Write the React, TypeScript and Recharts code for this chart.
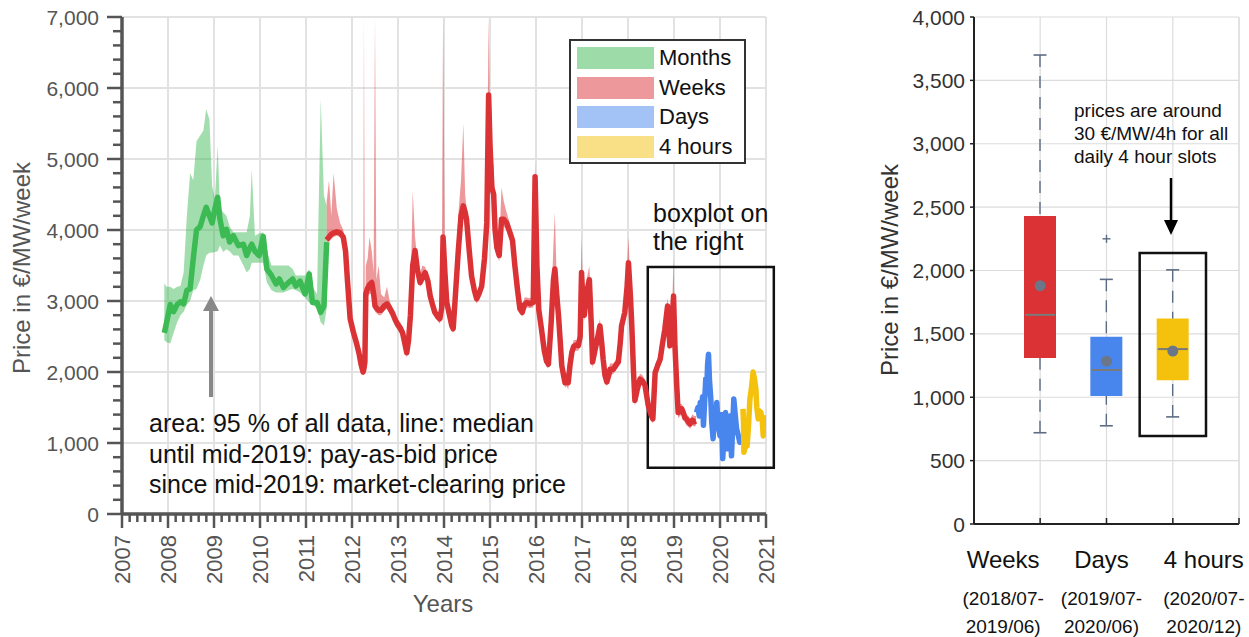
import React from "react";
import {
  ComposedChart,
  Line,
  Area,
  Bar,
  Scatter,
  Cell,
  XAxis,
  YAxis,
  CartesianGrid,
  ReferenceArea,
} from "recharts";

const FONT = '"Liberation Sans", Arial, Helvetica, sans-serif';

const monthColor = "#3cba54";
const weekColor = "#db3236";
const dayColor = "#4885ed";
const fourHourColor = "#f4c20d";

// [year, median, low (95 % area), high (95 % area)]
const monthSeries: number[][] = [
  [2007.92, 2550, 2450, 3250],
  [2007.97, 2700, 2420, 3200],
  [2008.05, 2950, 2400, 3200],
  [2008.12, 2850, 2550, 3170],
  [2008.2, 2950, 2700, 3200],
  [2008.27, 2990, 2800, 3210],
  [2008.34, 2960, 2850, 3400],
  [2008.41, 3150, 2950, 4200],
  [2008.48, 3170, 3000, 4800],
  [2008.55, 3600, 3150, 4700],
  [2008.62, 4000, 3170, 5250],
  [2008.7, 4050, 3300, 5330],
  [2008.77, 4200, 3500, 5400],
  [2008.83, 4320, 3640, 5700],
  [2008.9, 4200, 3680, 5560],
  [2008.96, 4100, 3680, 4620],
  [2009.02, 4300, 3690, 4450],
  [2009.08, 4460, 3700, 5190],
  [2009.13, 4150, 3780, 4300],
  [2009.2, 3920, 3690, 4250],
  [2009.27, 4010, 3730, 4200],
  [2009.34, 3830, 3700, 4050],
  [2009.42, 3920, 3640, 3970],
  [2009.53, 3780, 3640, 3970],
  [2009.64, 3800, 3500, 3970],
  [2009.71, 3640, 3400, 3970],
  [2009.78, 3750, 3450, 4200],
  [2009.82, 3800, 3540, 4860],
  [2009.89, 3700, 3540, 3920],
  [2009.98, 3640, 3540, 3950],
  [2010.07, 3910, 3540, 3970],
  [2010.15, 3450, 3260, 3700],
  [2010.25, 3360, 3150, 3500],
  [2010.35, 3240, 3120, 3500],
  [2010.42, 3310, 3120, 3500],
  [2010.51, 3190, 3120, 3500],
  [2010.62, 3260, 3150, 3500],
  [2010.71, 3310, 3170, 3450],
  [2010.78, 3210, 3150, 3360],
  [2010.87, 3280, 3120, 3360],
  [2010.98, 3100, 3050, 3360],
  [2011.07, 3380, 2980, 3450],
  [2011.14, 2980, 2950, 3200],
  [2011.24, 2980, 2890, 3100],
  [2011.32, 2840, 2700, 5840],
  [2011.39, 2930, 2650, 4480],
  [2011.45, 3830, 2890, 4340],
];

// [year, median, low, high]
const weekSeries: number[][] = [
  [2011.45, 3860, 3800, 4400],
  [2011.5, 3900, 3850, 4700],
  [2011.55, 3940, 3880, 4200],
  [2011.6, 3960, 3900, 4800],
  [2011.67, 3975, 3920, 4300],
  [2011.74, 3960, 3900, 4100],
  [2011.81, 3900, 3840, 4000],
  [2011.86, 3700, 3600, 3800],
  [2011.9, 3300, 3200, 3400],
  [2011.96, 2750, 2650, 2850],
  [2012.03, 2560, 2450, 2650],
  [2012.1, 2400, 2300, 2500],
  [2012.15, 2270, 2150, 2350],
  [2012.2, 2100, 2000, 2250],
  [2012.24, 2000, 1950, 2100],
  [2012.26, 2050, 1980, 7000],
  [2012.28, 2140, 2050, 2300],
  [2012.3, 3100, 2900, 3500],
  [2012.34, 3180, 3050, 3600],
  [2012.38, 3230, 3100, 3900],
  [2012.43, 3260, 3100, 3700],
  [2012.47, 3100, 2950, 3400],
  [2012.5, 2930, 2850, 7000],
  [2012.53, 2900, 2830, 3300],
  [2012.58, 2870, 2800, 3500],
  [2012.63, 2870, 2800, 3100],
  [2012.7, 2930, 2860, 3050],
  [2012.76, 2960, 2890, 3200],
  [2012.82, 2900, 2820, 3000],
  [2012.88, 2830, 2760, 2900],
  [2012.93, 2750, 2680, 2830],
  [2012.98, 2680, 2600, 2750],
  [2013.05, 2620, 2540, 2700],
  [2013.1, 2550, 2480, 2620],
  [2013.15, 2400, 2320, 2480],
  [2013.19, 2270, 2200, 2350],
  [2013.23, 2450, 2380, 2550],
  [2013.27, 2800, 2700, 2950],
  [2013.32, 3500, 3350, 4550],
  [2013.37, 3710, 3600, 3900],
  [2013.42, 3450, 3350, 3600],
  [2013.48, 3260, 3200, 3380],
  [2013.53, 3330, 3250, 3500],
  [2013.59, 3400, 3320, 3480],
  [2013.65, 3280, 3200, 3350],
  [2013.7, 3070, 3000, 3150],
  [2013.75, 2950, 2880, 3020],
  [2013.8, 2840, 2780, 2900],
  [2013.86, 2780, 2720, 2850],
  [2013.91, 2750, 2680, 2820],
  [2013.95, 2900, 2800, 3100],
  [2013.98, 3900, 3700, 7000],
  [2014.02, 3400, 3200, 3600],
  [2014.06, 2980, 2900, 3100],
  [2014.12, 2800, 2720, 2880],
  [2014.17, 2650, 2580, 2720],
  [2014.2, 2610, 2550, 2680],
  [2014.25, 3100, 3000, 3300],
  [2014.31, 3700, 3600, 4200],
  [2014.37, 4200, 4100, 4700],
  [2014.42, 4340, 4250, 5500],
  [2014.46, 4250, 4150, 4500],
  [2014.49, 4150, 4050, 4300],
  [2014.55, 3700, 3600, 3800],
  [2014.6, 3350, 3280, 3420],
  [2014.66, 3150, 3080, 3220],
  [2014.71, 3030, 2960, 3100],
  [2014.76, 3100, 3030, 3180],
  [2014.82, 3210, 3140, 3300],
  [2014.88, 3600, 3500, 3800],
  [2014.93, 4100, 4000, 4300],
  [2014.97, 5900, 5700, 7000],
  [2015.0, 5200, 5000, 5600],
  [2015.04, 4600, 4500, 5000],
  [2015.08, 4500, 4400, 4900],
  [2015.11, 4000, 3900, 4200],
  [2015.15, 3750, 3650, 3900],
  [2015.2, 3640, 3560, 3750],
  [2015.25, 4150, 4050, 4600],
  [2015.3, 4150, 4050, 4400],
  [2015.36, 4100, 4000, 4250],
  [2015.43, 3970, 3880, 4100],
  [2015.49, 3850, 3780, 3950],
  [2015.54, 3500, 3430, 3600],
  [2015.6, 3150, 3080, 3250],
  [2015.65, 2890, 2820, 2980],
  [2015.7, 2840, 2780, 2920],
  [2015.75, 2950, 2880, 3050],
  [2015.8, 2980, 2910, 3050],
  [2015.87, 2960, 2900, 3040],
  [2015.94, 2980, 2910, 3060],
  [2015.98, 4750, 4600, 4950],
  [2016.02, 3500, 3300, 3700],
  [2016.06, 2880, 2800, 2950],
  [2016.12, 2600, 2500, 2700],
  [2016.18, 2300, 2220, 2400],
  [2016.23, 2150, 2070, 2230],
  [2016.27, 2110, 2050, 2200],
  [2016.33, 2700, 2600, 2900],
  [2016.38, 3300, 3200, 3800],
  [2016.41, 3450, 3350, 4250],
  [2016.45, 3100, 3000, 3300],
  [2016.49, 2790, 2700, 2900],
  [2016.53, 2400, 2300, 2500],
  [2016.56, 2090, 2000, 2200],
  [2016.6, 1950, 1880, 2050],
  [2016.63, 1850, 1780, 1950],
  [2016.67, 1900, 1800, 2000],
  [2016.7, 1850, 1750, 1950],
  [2016.74, 2100, 2000, 2200],
  [2016.78, 2280, 2200, 2350],
  [2016.82, 2360, 2300, 2450],
  [2016.87, 2380, 2300, 2450],
  [2016.92, 2370, 2300, 2450],
  [2016.96, 2500, 2400, 2700],
  [2016.99, 3400, 3250, 3900],
  [2017.02, 3000, 2900, 3200],
  [2017.05, 2800, 2720, 2900],
  [2017.1, 3120, 3050, 3300],
  [2017.16, 3300, 3200, 3500],
  [2017.2, 2700, 2600, 2850],
  [2017.23, 2140, 2050, 2250],
  [2017.28, 2300, 2200, 2400],
  [2017.32, 2420, 2350, 2500],
  [2017.36, 2550, 2480, 2650],
  [2017.39, 2650, 2580, 2750],
  [2017.43, 2400, 2320, 2480],
  [2017.46, 2180, 2100, 2260],
  [2017.5, 1950, 1880, 2050],
  [2017.54, 1860, 1800, 1950],
  [2017.58, 1950, 1880, 2030],
  [2017.61, 2040, 1970, 2120],
  [2017.68, 2040, 1970, 2120],
  [2017.74, 2100, 2030, 2180],
  [2017.79, 2140, 2070, 2220],
  [2017.83, 2400, 2320, 2480],
  [2017.86, 2650, 2570, 2730],
  [2017.93, 2840, 2760, 2950],
  [2017.98, 3200, 3100, 3500],
  [2018.01, 3540, 3400, 3900],
  [2018.05, 3100, 3000, 3250],
  [2018.08, 2700, 2600, 2800],
  [2018.12, 2000, 1900, 2100],
  [2018.15, 1600, 1520, 1700],
  [2018.2, 1750, 1680, 1850],
  [2018.26, 1900, 1830, 1980],
  [2018.32, 1870, 1800, 1950],
  [2018.37, 1810, 1740, 1880],
  [2018.41, 1650, 1580, 1720],
  [2018.44, 1530, 1460, 1600],
  [2018.5, 1400, 1330, 1480],
  [2018.54, 1340, 1270, 1420],
  [2018.59, 1990, 1900, 2100],
  [2018.65, 2100, 2020, 2200],
  [2018.7, 2180, 2100, 2260],
  [2018.75, 2400, 2320, 2480],
  [2018.8, 2600, 2520, 2700],
  [2018.86, 2930, 2850, 3050],
  [2018.91, 2370, 2300, 2500],
  [2018.96, 2700, 2600, 2900],
  [2018.99, 3070, 2950, 3600],
  [2019.02, 2380, 2300, 2500],
  [2019.06, 1800, 1720, 1900],
  [2019.09, 1430, 1350, 1520],
  [2019.13, 1450, 1380, 1550],
  [2019.17, 1480, 1400, 1550],
  [2019.2, 1430, 1350, 1500],
  [2019.24, 1350, 1280, 1420],
  [2019.27, 1340, 1250, 1400],
  [2019.31, 1300, 1230, 1380],
  [2019.35, 1270, 1200, 1340],
  [2019.4, 1320, 1250, 1400],
  [2019.44, 1300, 1230, 1380],
  [2019.48, 1310, 1250, 1380],
];

// [year, median]
const daySeries: number[][] = [
  [2019.49, 1430], [2019.52, 1500], [2019.55, 1380], [2019.57, 1570],
  [2019.6, 1450], [2019.62, 1650], [2019.64, 1250], [2019.66, 1500],
  [2019.69, 1900], [2019.71, 1700], [2019.73, 2100], [2019.75, 2250],
  [2019.77, 1900], [2019.8, 1620], [2019.82, 1300], [2019.85, 1060],
  [2019.87, 1350], [2019.9, 1300], [2019.93, 1570], [2019.96, 1250],
  [2020.0, 1100], [2020.03, 1400], [2020.06, 780], [2020.09, 1200],
  [2020.12, 1430], [2020.15, 1100], [2020.17, 920], [2020.2, 1250],
  [2020.22, 1380], [2020.24, 1000], [2020.25, 820], [2020.28, 1300],
  [2020.3, 1620], [2020.33, 1400], [2020.36, 1200], [2020.4, 1100],
  [2020.43, 1010], [2020.47, 1100],
];

const fourHourSeries: number[][] = [
  [2020.5, 1480], [2020.51, 1300], [2020.52, 870], [2020.55, 950],
  [2020.59, 960], [2020.62, 1250], [2020.65, 1620], [2020.68, 1750],
  [2020.72, 2000], [2020.75, 1900], [2020.78, 1760], [2020.8, 1500],
  [2020.83, 1340], [2020.86, 1450], [2020.89, 1430], [2020.92, 1300],
  [2020.94, 1100], [2020.97, 1350], [2020.99, 1390],
];

const yearTicksMajor = [2007, 2008, 2009, 2010, 2011, 2012, 2013, 2014, 2015, 2016, 2017, 2018, 2019, 2020, 2021];
const priceTicksMajor = [0, 1000, 2000, 3000, 4000, 5000, 6000, 7000];
const minorPerYear = 6;
const minorPriceStep = 200;

const legendLabels = ["Months", "Weeks", "Days", "4 hours"];
const legendColors = [monthColor, weekColor, dayColor, fourHourColor];

// Box plot
const boxCategories = ["Weeks", "Days", "4 hours"];
const boxPeriodStart = ["(2018/07-", "(2019/07-", "(2020/07-"];
const boxPeriodEnd = ["2019/06)", "2020/06)", "2020/12)"];
const boxColors = [weekColor, dayColor, fourHourColor];
const whiskerLow = [720, 775, 845];
const quartile1 = [1310, 1010, 1135];
const boxMedians = [1650, 1215, 1380];
const quartile3 = [2430, 1478, 1622];
const whiskerHigh = [3700, 1930, 2005];
const boxMeans = [1880, 1285, 1365];
const boxOutliers: (number | null)[] = [null, 2250, null];
const boxTicks = [0, 500, 1000, 1500, 2000, 2500, 3000, 3500, 4000];
const boxLabelShift = [-37, -5, 31];

// ---------- derived tables ----------
const toBand = (s: number[][]) =>
  s.map(([year, median, low, high]) => ({ year, median, band: [low, high] }));
const toLine = (s: number[][]) => s.map(([year, median]) => ({ year, median }));

const monthData = toBand(monthSeries);
const weekData = toBand(weekSeries);
const dayData = toLine(daySeries);
const fourHourData = toLine(fourHourSeries);

const xTicks: number[] = [];
yearTicksMajor.forEach((y, i) => {
  if (i === yearTicksMajor.length - 1) xTicks.push(y);
  else for (let k = 0; k < minorPerYear; k++) xTicks.push(y + k / minorPerYear);
});
const yTicks: number[] = [];
for (let v = 0; v <= priceTicksMajor[priceTicksMajor.length - 1]; v += minorPriceStep) yTicks.push(v);

const boxRows = boxCategories.map((name, i) => ({
  name,
  base: whiskerLow[i],
  lowerWhisker: quartile1[i] - whiskerLow[i],
  box: quartile3[i] - quartile1[i],
  upperWhisker: whiskerHigh[i] - quartile3[i],
  median: boxMedians[i],
  mean: boxMeans[i],
  outlier: boxOutliers[i],
}));

// ---------- tick renderers ----------
const AXIS_GREY = "#555";

const LeftYTick = (props: any) => {
  const { x, y, payload } = props;
  const v = payload.value;
  const major = v % 1000 === 0;
  return (
    <g>
      <line x1={x} x2={x - (major ? 15 : 9)} y1={y} y2={y} stroke={AXIS_GREY} strokeWidth={2.5} />
      {major && (
        <text x={x - 23} y={y} dy="0.36em" textAnchor="end" fontSize={21} fill={AXIS_GREY} fontFamily={FONT}>
          {v.toLocaleString("en-US")}
        </text>
      )}
    </g>
  );
};

const LeftXTick = (props: any) => {
  const { x, y, payload } = props;
  const v = payload.value;
  const major = Math.abs(v - Math.round(v)) < 1e-6;
  const tx = x + 8;
  const ty = y + 21;
  return (
    <g>
      <line x1={x} x2={x} y1={y} y2={y + (major ? 14 : 8)} stroke={AXIS_GREY} strokeWidth={2.5} />
      {major && (
        <text
          x={tx}
          y={ty}
          textAnchor="end"
          transform={`rotate(-90, ${tx}, ${ty})`}
          fontSize={22}
          fill={AXIS_GREY}
          fontFamily={FONT}
        >
          {Math.round(v)}
        </text>
      )}
    </g>
  );
};

const RightYTick = (props: any) => {
  const { x, y, payload } = props;
  return (
    <g>
      <line x1={x} x2={x - 4} y1={y} y2={y} stroke="#222" strokeWidth={1.5} />
      <text x={x - 9} y={y} dy="0.36em" textAnchor="end" fontSize={21} fill="#333" fontFamily={FONT}>
        {payload.value.toLocaleString("en-US")}
      </text>
    </g>
  );
};

const RightXTick = (props: any) => {
  const { x, y, payload } = props;
  const i = boxCategories.indexOf(payload.value);
  if (i < 0) return <g />;
  const lx = x + boxLabelShift[i];
  return (
    <g>
      <line x1={x} x2={x} y1={y} y2={y - 6} stroke="#222" strokeWidth={1.5} />
      <text x={lx} y={y + 44} textAnchor="middle" fontSize={24} fill="#111" fontFamily={FONT}>
        {payload.value}
      </text>
      <text x={lx} y={y + 81} textAnchor="middle" fontSize={19} fill="#111" fontFamily={FONT}>
        {boxPeriodStart[i]}
      </text>
      <text x={lx} y={y + 109} textAnchor="middle" fontSize={19} fill="#111" fontFamily={FONT}>
        {boxPeriodEnd[i]}
      </text>
    </g>
  );
};

// ---------- box plot shapes ----------
const WHISKER = "#5c6c82";
const makeWhisker = (capAtTop: boolean) => (props: any) => {
  const { x, y, width, height } = props;
  const cx = x + width / 2;
  const capY = capAtTop ? y : y + height;
  const otherY = capAtTop ? y + height : y;
  return (
    <g>
      <line x1={cx} x2={cx} y1={capY} y2={otherY} stroke={WHISKER} strokeWidth={1.4} strokeDasharray="12 9" />
      <line x1={cx - 6.5} x2={cx + 6.5} y1={capY} y2={capY} stroke={WHISKER} strokeWidth={1.6} />
    </g>
  );
};
const EmptyShape = () => <g />;
const MedianShape = (props: any) => (
  <line x1={props.cx - 15} x2={props.cx + 15} y1={props.cy} y2={props.cy} stroke="#7a7a7a" strokeWidth={2} />
);
const MeanShape = (props: any) => <circle cx={props.cx} cy={props.cy} r={5.5} fill="#6b7788" />;
const PlusShape = (props: any) => {
  const { cx, cy, payload } = props;
  if (!payload || payload.outlier == null || !Number.isFinite(cy)) return <g />;
  return (
    <g stroke={WHISKER} strokeWidth={1.4}>
      <line x1={cx - 4} x2={cx + 4} y1={cy} y2={cy} />
      <line x1={cx} x2={cx} y1={cy - 4} y2={cy + 4} />
    </g>
  );
};

export default function App() {
  return (
    <div
      style={{
        position: "absolute",
        left: 0,
        top: 0,
        width: 1249,
        height: 637,
        background: "#fff",
        fontFamily: FONT,
        overflow: "hidden",
      }}
    >
      {/* Left time-series chart */}
      <div style={{ position: "absolute", left: 0, top: 0 }}>
        <ComposedChart width={800} height={637} margin={{ top: 17, right: 34, left: 0, bottom: 0 }}>
          <CartesianGrid
            stroke="#e2e2e2"
            strokeWidth={2}
            horizontalValues={priceTicksMajor}
            verticalValues={yearTicksMajor}
          />
          <XAxis
            dataKey="year"
            type="number"
            domain={[2007, 2021]}
            ticks={xTicks}
            interval={0}
            height={123}
            allowDataOverflow
            axisLine={{ stroke: AXIS_GREY, strokeWidth: 3.5 }}
            tickLine={false}
            tickSize={0}
            tickMargin={0}
            tick={LeftXTick}
          />
          <YAxis
            type="number"
            domain={[0, 7000]}
            ticks={yTicks}
            interval={0}
            width={122}
            allowDataOverflow
            axisLine={{ stroke: AXIS_GREY, strokeWidth: 3.5 }}
            tickLine={false}
            tickSize={0}
            tickMargin={0}
            tick={LeftYTick}
          />
          <Area
            data={monthData}
            dataKey="band"
            type="linear"
            stroke="none"
            fill={monthColor}
            fillOpacity={0.48}
            isAnimationActive={false}
          />
          <Line
            data={monthData}
            dataKey="median"
            type="linear"
            stroke={monthColor}
            strokeWidth={5.5}
            dot={false}
            strokeLinejoin="round"
            isAnimationActive={false}
          />
          <Area
            data={weekData}
            dataKey="band"
            type="linear"
            stroke="none"
            fill={weekColor}
            fillOpacity={0.5}
            isAnimationActive={false}
          />
          <Line
            data={weekData}
            dataKey="median"
            type="linear"
            stroke={weekColor}
            strokeWidth={5.5}
            dot={false}
            strokeLinejoin="round"
            isAnimationActive={false}
          />
          <Line
            data={dayData}
            dataKey="median"
            type="linear"
            stroke={dayColor}
            strokeWidth={5.5}
            dot={false}
            strokeLinejoin="round"
            isAnimationActive={false}
          />
          <Line
            data={fourHourData}
            dataKey="median"
            type="linear"
            stroke={fourHourColor}
            strokeWidth={5.5}
            dot={false}
            strokeLinejoin="round"
            isAnimationActive={false}
          />
          <ReferenceArea
            x1={2018.43}
            x2={2021.17}
            y1={650}
            y2={3480}
            fill="none"
            fillOpacity={0}
            stroke="#111"
            strokeWidth={2.5}
            ifOverflow="visible"
          />
        </ComposedChart>
      </div>

      {/* Right box plot */}
      <div style={{ position: "absolute", left: 870, top: 0 }}>
        <ComposedChart
          width={379}
          height={637}
          data={boxRows}
          margin={{ top: 17, right: 10, left: 0, bottom: 0 }}
          barGap={0}
        >
          <CartesianGrid stroke="#dcdcdc" strokeWidth={1.2} />
          <XAxis
            dataKey="name"
            type="category"
            allowDuplicatedCategory={false}
            padding={{ left: 33, right: 33 }}
            height={113}
            interval={0}
            axisLine={{ stroke: "#222", strokeWidth: 2 }}
            tickLine={false}
            tickSize={0}
            tickMargin={0}
            tick={RightXTick}
          />
          <YAxis
            type="number"
            domain={[0, 4000]}
            ticks={boxTicks}
            interval={0}
            width={104}
            axisLine={{ stroke: "#222", strokeWidth: 2 }}
            tickLine={false}
            tickSize={0}
            tickMargin={0}
            tick={RightYTick}
          />
          <Bar dataKey="base" stackId="b" barSize={32} fill="none" shape={EmptyShape} isAnimationActive={false} />
          <Bar
            dataKey="lowerWhisker"
            stackId="b"
            barSize={32}
            shape={makeWhisker(false)}
            isAnimationActive={false}
          />
          <Bar dataKey="box" stackId="b" barSize={32} isAnimationActive={false}>
            {boxRows.map((r, i) => (
              <Cell key={r.name} fill={boxColors[i]} />
            ))}
          </Bar>
          <Bar
            dataKey="upperWhisker"
            stackId="b"
            barSize={32}
            shape={makeWhisker(true)}
            isAnimationActive={false}
          />
          <Scatter dataKey="median" shape={MedianShape} isAnimationActive={false} />
          <Scatter dataKey="mean" shape={MeanShape} isAnimationActive={false} />
          <Scatter dataKey="outlier" shape={PlusShape} isAnimationActive={false} />
          <ReferenceArea
            x1="4 hours"
            x2="4 hours"
            y1={694}
            y2={2138}
            fill="none"
            fillOpacity={0}
            stroke="#111"
            strokeWidth={2.5}
            ifOverflow="visible"
          />
        </ComposedChart>
      </div>

      {/* Legend */}
      <div
        style={{
          position: "absolute",
          left: 569,
          top: 39,
          width: 177,
          height: 125,
          boxSizing: "border-box",
          border: "2.5px solid #333",
          background: "#fff",
        }}
      >
        {legendLabels.map((label, i) => (
          <div
            key={label}
            style={{ position: "absolute", left: 6, top: 6 + i * 29.5, height: 22, display: "flex", alignItems: "center" }}
          >
            <div style={{ width: 77, height: 22, background: legendColors[i], opacity: 0.5 }} />
            <span style={{ marginLeft: 5, fontSize: 22, color: "#111", lineHeight: "22px" }}>{label}</span>
          </div>
        ))}
      </div>

      {/* Annotations */}
      <svg
        width={1249}
        height={637}
        style={{ position: "absolute", left: 0, top: 0, pointerEvents: "none" }}
        fontFamily={FONT}
      >
        <text x={30} y={268} textAnchor="middle" transform="rotate(-90, 30, 268)" fontSize={24} fill={AXIS_GREY}>
          Price in €/MW/week
        </text>
        <text x={443} y={612} textAnchor="middle" fontSize={24} fill={AXIS_GREY}>
          Years
        </text>
        <text x={653} y={222} fontSize={25} fill="#111">
          boxplot on
        </text>
        <text x={653} y={250} fontSize={25} fill="#111">
          the right
        </text>
        <text x={149} y={432} fontSize={25} fill="#111">
          area: 95 % of all data, line: median
        </text>
        <text x={149} y={463} fontSize={25} fill="#111">
          until mid-2019: pay-as-bid price
        </text>
        <text x={149} y={493} fontSize={25} fill="#111">
          since mid-2019: market-clearing price
        </text>
        <line x1={211} x2={211} y1={397} y2={309} stroke="#888" strokeWidth={4} />
        <polygon points="203,311 219,311 211,296" fill="#888" />

        <text x={898} y={270} textAnchor="middle" transform="rotate(-90, 898, 270)" fontSize={24} fill="#333">
          Price in €/MW/week
        </text>
        <line x1={1239} x2={1239} y1={17} y2={524} stroke="#dcdcdc" strokeWidth={1.2} />
        <line x1={1239} x2={1239} y1={524} y2={518} stroke="#222" strokeWidth={1.5} />
        <text x={1074} y={117} fontSize={19} fill="#111">
          prices are around
        </text>
        <text x={1074} y={140} fontSize={19} fill="#111">
          30 €/MW/4h for all
        </text>
        <text x={1074} y={163} fontSize={19} fill="#111">
          daily 4 hour slots
        </text>
        <line x1={1171} x2={1171} y1={178} y2={222} stroke="#000" strokeWidth={2.5} />
        <polygon points="1164,220 1178,220 1171,235" fill="#000" />
      </svg>
    </div>
  );
}
